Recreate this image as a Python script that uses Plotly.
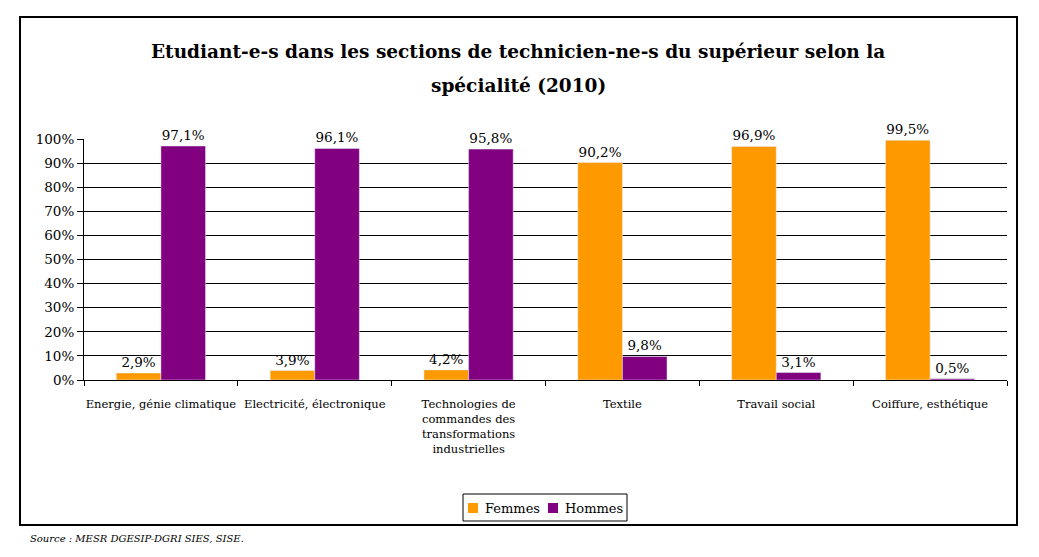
import plotly.graph_objects as go

categories = [
    "Energie, génie climatique",
    "Electricité, électronique",
    "Technologies de<br>commandes des<br>transformations<br>industrielles",
    "Textile",
    "Travail social",
    "Coiffure, esthétique",
]
series_names = ["Femmes", "Hommes"]
series_colors = ["#FF9900", "#800080"]
femmes = [2.9, 3.9, 4.2, 90.2, 96.9, 99.5]
hommes = [97.1, 96.1, 95.8, 9.8, 3.1, 0.5]
femmes_labels = ["2,9%", "3,9%", "4,2%", "90,2%", "96,9%", "99,5%"]
hommes_labels = ["97,1%", "96,1%", "95,8%", "9,8%", "3,1%", "0,5%"]
y_ticks = [0, 10, 20, 30, 40, 50, 60, 70, 80, 90, 100]
y_tick_labels = [f"{v}%" for v in y_ticks]
title_lines = [
    "Etudiant-e-s dans les sections de technicien-ne-s du supérieur selon la",
    "spécialité (2010)",
]
source_text = "Source : MESR DGESIP-DGRI SIES, SISE."

FONT = "DejaVu Serif"
W, H = 1039, 557
OFF = 8  # page body margin offset
L, R, T, B = 84 - OFF, 1039 - (1007 - OFF), 139 - OFF, 557 - (380 - OFF)
pw, ph = W - L - R, H - T - B

def px_x(x):
    return (x - OFF - L) / pw

def px_y(y):
    return (H - B - (y - OFF)) / ph

fig = go.Figure()
for name, color, vals, labels in [
    (series_names[0], series_colors[0], femmes, femmes_labels),
    (series_names[1], series_colors[1], hommes, hommes_labels),
]:
    fig.add_trace(go.Bar(
        name=name, x=categories, y=vals, marker_color=color,
        text=labels, textposition="outside", cliponaxis=False,
        textfont=dict(family=FONT, size=13.5, color="#000"),
        showlegend=False,
    ))

# Legend (drawn to match the compact boxed legend of the original)
legend_shapes = [
    dict(type="rect", xref="paper", yref="paper",
         x0=px_x(463), x1=px_x(627), y0=px_y(521), y1=px_y(494),
         line=dict(color="#000", width=1), fillcolor="white"),
]
legend_annots = []
for i, (name, color) in enumerate(zip(series_names, series_colors)):
    sx = 468 + i * 80
    legend_shapes.append(dict(type="rect", xref="paper", yref="paper",
                              x0=px_x(sx), x1=px_x(sx + 10), y0=px_y(513), y1=px_y(503),
                              line=dict(width=0), fillcolor=color))
    legend_annots.append(dict(text=name, xref="paper", yref="paper",
                              x=px_x(sx + 15), y=px_y(508), xanchor="left", yanchor="middle",
                              showarrow=False, font=dict(family=FONT, size=13, color="#000")))

title_annots = [
    dict(text=f"<b>{line}</b>", xref="paper", yref="paper", x=px_x(518), y=px_y(yc),
         xanchor="center", yanchor="middle", showarrow=False,
         font=dict(family=FONT, size=18.5, color="#000"))
    for line, yc in zip(title_lines, [52, 86])
]

fig.update_layout(
    width=W, height=H,
    margin=dict(l=L, r=R, t=T, b=B),
    paper_bgcolor="white", plot_bgcolor="white",
    barmode="group", bargap=0.42, bargroupgap=0,
    font=dict(family=FONT, size=13, color="#000"),
    showlegend=False,
    xaxis=dict(
        showgrid=False, showline=True, linecolor="#000", linewidth=1,
        ticks="outside", tickson="boundaries", ticklen=5, tickcolor="#000",
        tickfont=dict(family=FONT, size=11.5, color="#000"), tickangle=0,
        ticklabelstandoff=13, fixedrange=True,
    ),
    yaxis=dict(
        range=[0, 100], tickvals=y_ticks, ticktext=y_tick_labels,
        showgrid=True, gridcolor="#000", gridwidth=1,
        showline=True, linecolor="#000", linewidth=1,
        ticks="outside", ticklen=6, tickcolor="#000",
        tickfont=dict(family=FONT, size=13.5, color="#000"),
        zeroline=False, fixedrange=True,
    ),
    shapes=[
        dict(type="rect", xref="paper", yref="paper",
             x0=px_x(20), x1=px_x(1017), y0=px_y(525), y1=px_y(17),
             line=dict(color="#000", width=2), fillcolor="rgba(0,0,0,0)", layer="below"),
    ] + legend_shapes,
    annotations=title_annots + [
        dict(text=f"<i>{source_text}</i>",
             xref="paper", yref="paper", x=px_x(28), y=px_y(538), xanchor="left", yanchor="middle",
             showarrow=False, font=dict(family=FONT, size=10, color="#000")),
    ] + legend_annots,
)

fig.write_html("out.html")
